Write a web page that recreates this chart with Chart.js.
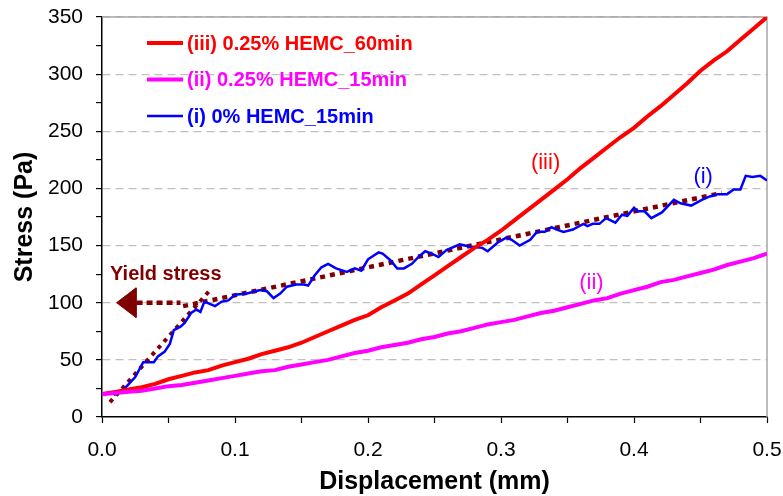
<!DOCTYPE html>
<html>
<head>
<meta charset="utf-8">
<script src="https://cdn.jsdelivr.net/npm/chart.js@4.4.1/dist/chart.umd.min.js"></script>
<style>
  body { margin: 0; background: #fff; }
  #wrap { width: 783px; height: 496px; }
</style>
</head>
<body>
<div id="wrap"><canvas id="stress-chart" width="783" height="496"></canvas></div>
<script>
// displacement (mm) shared by curves (ii) and (iii)
const displacement = [0.00, 0.01, 0.02, 0.03, 0.04, 0.05, 0.06, 0.07, 0.08, 0.09,
  0.10, 0.11, 0.12, 0.13, 0.14, 0.15, 0.16, 0.17, 0.18, 0.19,
  0.20, 0.21, 0.22, 0.23, 0.24, 0.25, 0.26, 0.27, 0.28, 0.29,
  0.30, 0.31, 0.32, 0.33, 0.34, 0.35, 0.36, 0.37, 0.38, 0.39,
  0.40, 0.41, 0.42, 0.43, 0.44, 0.45, 0.46, 0.47, 0.48, 0.49, 0.50];

// (iii) 0.25% HEMC_60min
const stress60 = [20, 22, 24, 26, 29, 33, 36, 39, 41, 45,
  48, 51, 55, 58, 61, 65, 70, 75, 80, 85,
  89, 96, 102, 108, 116, 124, 132, 140, 148, 155,
  163, 172, 181, 190, 199, 208, 218, 227, 236, 245,
  253, 263, 272, 282, 292, 303, 312, 320, 330, 340, 350];

// (ii) 0.25% HEMC_15min
const stress15 = [20, 21, 22, 23, 25, 27, 28, 30, 32, 34,
  36, 38, 40, 41, 44, 46, 48, 50, 53, 56,
  58, 61, 63, 65, 68, 70, 73, 75, 78, 81,
  83, 85, 88, 91, 93, 96, 99, 102, 104, 108,
  111, 114, 118, 120, 123, 126, 129, 133, 136, 139, 143];

// (i) 0% HEMC_15min, noisier so it has its own x samples
const dispPlain = [0.009, 0.017, 0.025, 0.031, 0.039, 0.042, 0.047, 0.051, 0.054, 0.059,
  0.062, 0.067, 0.071, 0.074, 0.077, 0.081, 0.085, 0.090, 0.095, 0.100,
  0.109, 0.119, 0.124, 0.129, 0.134, 0.139, 0.146, 0.152, 0.155, 0.160,
  0.165, 0.170, 0.176, 0.184, 0.190, 0.195, 0.200, 0.208, 0.211, 0.217,
  0.222, 0.227, 0.233, 0.238, 0.243, 0.248, 0.253, 0.259, 0.269, 0.277,
  0.286, 0.290, 0.298, 0.304, 0.308, 0.314, 0.322, 0.327, 0.333, 0.338,
  0.342, 0.347, 0.354, 0.362, 0.365, 0.369, 0.374, 0.379, 0.386, 0.391,
  0.395, 0.400, 0.403, 0.408, 0.413, 0.421, 0.430, 0.435, 0.443, 0.451,
  0.457, 0.463, 0.470, 0.475, 0.480, 0.484, 0.489, 0.495, 0.500];
const stressPlain = [19, 25, 35, 48, 48, 53, 57, 64, 76, 79,
  82, 91, 94, 92, 101, 99, 97, 101, 102, 107,
  108, 111, 110, 104, 108, 114, 116, 116, 115, 124,
  131, 134, 130, 127, 130, 128, 138, 144, 143, 137,
  130, 130, 134, 140, 145, 143, 140, 146, 151, 149,
  148, 145, 153, 157, 155, 150, 155, 162, 162, 166,
  164, 162, 164, 169, 167, 169, 169, 174, 170, 177,
  176, 183, 180, 180, 174, 179, 190, 187, 185, 190,
  193, 195, 195, 199, 199, 211, 210, 211, 207];

// yield stress construction lines
const steepX = [0.006, 0.082];
const steepY = [13, 112];
const flatX = [0.061, 0.466];
const flatY = [97, 196];
const arrowX = [0.026, 0.059];
const arrowY = [100, 100];
const headX = [0.011, 0.0256, 0.0256, 0.011];
const headY = [100, 113, 87, 100];

// curve tags
const tagText = ['(iii)', '(i)', '(ii)'];
const tagX = [0.3335, 0.452, 0.368];
const tagY = [222, 210, 117];
const tagColor = ['#ff0000', '#0000ff', '#ff00ff'];

const legendText = ['(iii) 0.25% HEMC_60min', '(ii) 0.25% HEMC_15min', '(i) 0% HEMC_15min'];
const legendColor = ['#ff0000', '#ff00ff', '#0000ff'];
const legendWidth = [4, 4, 2.5];

const FONT = "'Liberation Sans', Arial, sans-serif";
const DARKRED = '#800000';

function pts(xs, ys) {
  return xs.map((x, i) => ({ x: x, y: ys[i] }));
}

function line(data, color, width, dash) {
  return {
    data: data,
    showLine: true,
    borderColor: color,
    backgroundColor: color,
    borderWidth: width,
    borderDash: dash || [],
    borderCapStyle: 'butt',
    pointRadius: 0,
    pointHoverRadius: 0,
    tension: 0,
    fill: false
  };
}

const head = line(pts(headX, headY), DARKRED, 1);
head.fill = 'shape';

const frame = {
  id: 'frame',
  beforeDatasetsDraw(chart) {
    const { ctx, chartArea: a } = chart;
    ctx.save();
    ctx.strokeStyle = '#a6a6a6';
    ctx.lineWidth = 1.5;
    ctx.beginPath();
    ctx.moveTo(a.left, a.top);
    ctx.lineTo(a.right, a.top);
    ctx.lineTo(a.right, a.bottom);
    ctx.stroke();
    ctx.restore();
  }
};

const annotations = {
  id: 'annotations',
  afterDatasetsDraw(chart) {
    const { ctx, chartArea: a, scales: { x, y } } = chart;
    ctx.save();
    ctx.textAlign = 'center';
    ctx.textBaseline = 'middle';
    ctx.font = '22px ' + FONT;
    tagText.forEach((t, i) => {
      ctx.fillStyle = tagColor[i];
      ctx.fillText(t, x.getPixelForValue(tagX[i]), y.getPixelForValue(tagY[i]));
    });

    ctx.font = 'bold 20px ' + FONT;
    ctx.fillStyle = DARKRED;
    ctx.textAlign = 'left';
    ctx.fillText('Yield stress', x.getPixelForValue(0.006), y.getPixelForValue(125));

    // legend box in the upper left corner
    legendText.forEach((t, i) => {
      const ly = a.top + 26 + i * 36.5;
      ctx.strokeStyle = legendColor[i];
      ctx.lineWidth = legendWidth[i];
      ctx.beginPath();
      ctx.moveTo(a.left + 45, ly);
      ctx.lineTo(a.left + 81, ly);
      ctx.stroke();
      ctx.fillStyle = legendColor[i];
      ctx.fillText(t, a.left + 85, ly + 1);
    });
    ctx.restore();
  }
};

new Chart(document.getElementById('stress-chart'), {
  type: 'scatter',
  data: {
    datasets: [
      line(pts(displacement, stress15), '#ff00ff', 4),
      line(pts(displacement, stress60), '#ff0000', 4),
      line(pts(dispPlain, stressPlain), '#0000ff', 2.5),
      line(pts(steepX, steepY), DARKRED, 4, [4, 5]),
      line(pts(flatX, flatY), DARKRED, 4.5, [5, 5]),
      line(pts(arrowX, arrowY), DARKRED, 4.5, [6, 4]),
      head
    ]
  },
  options: {
    responsive: false,
    animation: false,
    layout: { padding: { top: 17, right: 16, left: 0, bottom: 0 } },
    plugins: {
      legend: { display: false },
      tooltip: { enabled: false }
    },
    scales: {
      x: {
        type: 'linear',
        min: 0,
        max: 0.5,
        afterFit(scale) {
          scale.height = 79;
          scale.paddingLeft = 0;
          scale.paddingRight = 0;
        },
        ticks: {
          stepSize: 0.05,
          padding: 15,
          color: '#000',
          font: { family: FONT, size: 21 },
          callback: v => (Math.round(v * 100) % 10 === 0 ? v.toFixed(1) : '')
        },
        grid: {
          drawOnChartArea: false,
          tickLength: 6,
          tickColor: '#000',
          tickWidth: 1.2
        },
        border: { color: '#000', width: 1.5 },
        title: {
          display: true,
          text: 'Displacement (mm)',
          color: '#000',
          font: { family: FONT, size: 25, weight: 'bold', lineHeight: 1.1 },
          padding: { top: 0, bottom: 0 }
        }
      },
      y: {
        min: 0,
        max: 350,
        afterFit(scale) {
          scale.width = 102;
          scale.paddingTop = 0;
          scale.paddingBottom = 0;
        },
        ticks: {
          stepSize: 25,
          padding: 13,
          color: '#000',
          font: { family: FONT, size: 21 },
          callback: v => (v % 50 === 0 ? v : '')
        },
        grid: {
          color: c => (c.tick && c.tick.value % 50 === 0 && c.tick.value > 0 ? '#c0c0c0' : 'rgba(0,0,0,0)'),
          lineWidth: 1.2,
          tickLength: 6,
          tickColor: '#000',
          tickWidth: 1.2
        },
        border: { color: '#000', width: 1.5, dash: [8, 5] },
        title: {
          display: true,
          text: 'Stress (Pa)',
          color: '#000',
          font: { family: FONT, size: 25, weight: 'bold', lineHeight: 1.2 },
          padding: { top: 10, bottom: 0 }
        }
      }
    }
  },
  plugins: [frame, annotations]
});
</script>
</body>
</html>
